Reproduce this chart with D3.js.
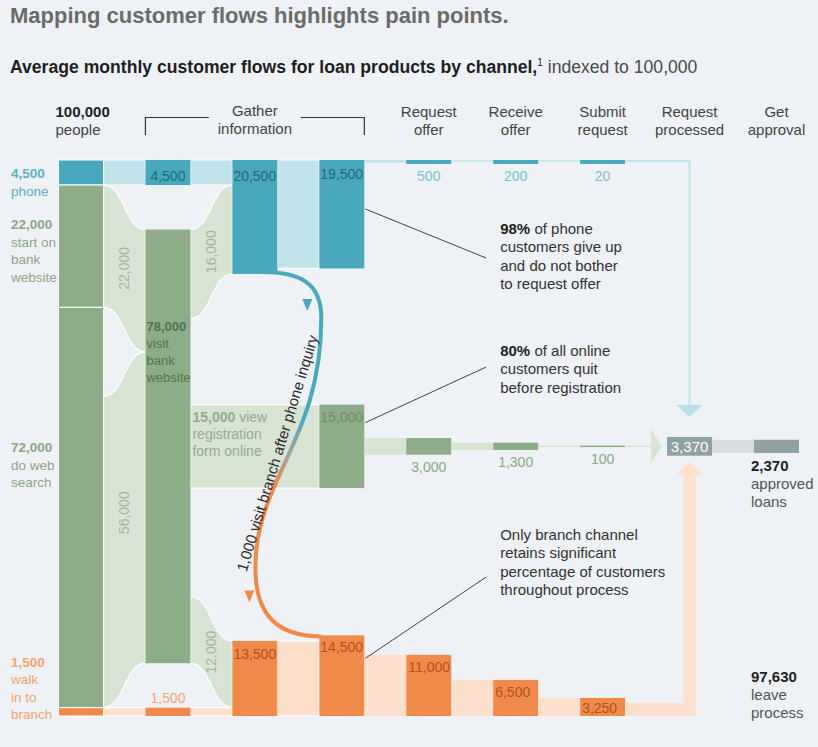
<!DOCTYPE html>
<html>
<head>
<meta charset="utf-8">
<script src="https://cdn.jsdelivr.net/npm/d3@7"></script>
<style>
  html, body { margin: 0; padding: 0; background: #eef1f5; }
  svg { display: block; font-family: "Liberation Sans", Arial, Helvetica, sans-serif; }
</style>
</head>
<body>
<div id="chart"></div>
<script>
// customers per month, indexed to 100,000
let stages = ["start", "channel", "info", "compare", "request", "receive", "submit", "processed", "approval"];
let stageHeaders = [["Request", "offer"], ["Receive", "offer"], ["Submit", "request"], ["Request", "processed"], ["Get", "approval"]];

let channels = ["phone", "website", "search", "branch"];
let channelPeople = [4500, 22000, 72000, 1500];
let channelLabels = [["4,500", "phone"], ["22,000", "start on", "bank", "website"], ["72,000", "do web", "search"], ["1,500", "walk", "in to", "branch"]];

let visitWebsite = 78000;
let flowsToWebsite = [22000, 56000];          // start on website, web search
let flowsFromWebsite = [16000, 15000, 12000]; // phone info, registration form, branch
let phoneInfo = [20500, 19500];
let branchInfo = [13500, 14500];
let phoneToBranch = 1000;

let phoneFunnel = [500, 200, 20];
let onlineFunnel = [3000, 1300, 100];
let branchFunnel = [11000, 6500, 3250];
let processed = 3370;
let approved = 2370;
let leave = 97630;
let total = 100000;

let notes = [
    { bold: "98%", lines: [" of phone", "customers give up", "and do not bother", "to request offer"] },
    { bold: "80%", lines: [" of all online", "customers quit", "before registration"] },
    { bold: "", lines: ["Only branch channel", "retains significant", "percentage of customers", "throughout process"] }
];

const width = 818, height = 747;
const fmt = d3.format(",");
const col = {
    teal: "#4aa8bd", tealLt: "#c3e3ea", green: "#8eac8a", greenLt: "#d7e4d3",
    orange: "#f08a4b", orangeLt: "#fde0cb", gray: "#8fa1a3", grayLt: "#d9dcdf"
};

const svg = d3.select("#chart").append("svg")
    .attr("width", width)
    .attr("height", height);

svg.append("rect").attr("width", width).attr("height", height).attr("fill", "#eef1f5");

const x = d3.scalePoint().domain(stages).range([58.5, 754]);
const y = d3.scaleLinear().domain([0, total]).range([160, 716]);
const barW = 45;
const h = v => y(v) - y(0);

// layout anchors (people units)
const websiteTop = 12500, onlineMid = 51500;

// ---- titles ----
svg.append("text").attr("x", 10).attr("y", 23)
    .attr("font-size", 22).attr("font-weight", "bold").attr("fill", "#6b6b6b")
    .text("Mapping customer flows highlights pain points.");

let sub = svg.append("text").attr("x", 10).attr("y", 73).attr("font-size", 17.6);
sub.append("tspan").attr("font-weight", "bold").attr("fill", "#1e1e1e")
    .text("Average monthly customer flows for loan products by channel,");
sub.append("tspan").attr("font-size", 10).attr("dy", -7).attr("fill", "#1e1e1e").text("1");
sub.append("tspan").attr("dy", 7).attr("fill", "#4a4a4a").text(" indexed to 100,000");

// ---- column headers ----
let hdr = svg.append("g").attr("font-size", 15).attr("fill", "#444");
hdr.append("text").attr("x", x("start") - 3).attr("y", 117).attr("font-weight", "bold").attr("fill", "#222").text("100,000");
hdr.append("text").attr("x", x("start") - 3).attr("y", 135).text("people");

const gx = (x("channel") + x("compare") + barW) / 2;
hdr.append("text").attr("x", gx).attr("y", 116).attr("text-anchor", "middle").text("Gather");
hdr.append("text").attr("x", gx).attr("y", 134).attr("text-anchor", "middle").text("information");
svg.append("path")
    .attr("d", `M${x("channel")},135V117.5H${gx - 46}M${gx + 46},117.5H${x("compare") + barW}V135`)
    .attr("fill", "none").attr("stroke", "#333").attr("stroke-width", 1.2);

hdr.selectAll(".stage")
    .data(stageHeaders)
    .enter()
    .append("text")
    .attr("class", "stage")
    .attr("text-anchor", "middle")
    .attr("x", (d, i) => x(stages[4 + i]) + barW / 2)
    .attr("y", 117)
    .each(function (d) {
        d3.select(this).selectAll("tspan").data(d).enter().append("tspan")
            .attr("x", d3.select(this).attr("x"))
            .attr("dy", (t, j) => j ? 18 : 0)
            .text(t => t);
    });

// ---- nodes ----
let nodes = {};
function node(id, stage, start, value, fill) { nodes[id] = { id, stage, start, value, fill }; }

let acc = 0;
channels.forEach((c, i) => {
    node(c, "start", acc, channelPeople[i], [col.teal, col.green, col.green, col.orange][i]);
    acc += channelPeople[i];
});
node("phone1", "channel", 0, channelPeople[0], col.teal);
node("visit", "channel", websiteTop, visitWebsite, col.green);
node("branch1", "channel", total - channelPeople[3], channelPeople[3], col.orange);
node("phone2", "info", 0, phoneInfo[0], col.teal);
node("branch2", "info", total - branchInfo[0], branchInfo[0], col.orange);
node("phone3", "compare", 0, phoneInfo[1], col.teal);
node("online3", "compare", onlineMid - flowsFromWebsite[1] / 2, flowsFromWebsite[1], col.green);
node("branch3", "compare", total - branchInfo[1], branchInfo[1], col.orange);

let links = [
    { s: "phone", so: 0, t: "phone1", to: 0, v: channelPeople[0], fill: col.tealLt },
    { s: "website", so: 0, t: "visit", to: 0, v: flowsToWebsite[0], fill: col.greenLt, label: true },
    { s: "search", so: channelPeople[2] - flowsToWebsite[1], t: "visit", to: flowsToWebsite[0], v: flowsToWebsite[1], fill: col.greenLt, label: true, shift: -17 },
    { s: "branch", so: 0, t: "branch1", to: 0, v: channelPeople[3], fill: col.orangeLt },
    { s: "phone1", so: 0, t: "phone2", to: 0, v: channelPeople[0], fill: col.tealLt },
    { s: "visit", so: 0, t: "phone2", to: channelPeople[0], v: flowsFromWebsite[0], fill: col.greenLt, label: true },
    { s: "visit", so: nodes.online3.start - websiteTop, t: "online3", to: 0, v: flowsFromWebsite[1], fill: col.greenLt },
    { s: "visit", so: visitWebsite - flowsFromWebsite[2], t: "branch2", to: 0, v: flowsFromWebsite[2], fill: col.greenLt, label: true },
    { s: "branch1", so: 0, t: "branch2", to: flowsFromWebsite[2], v: channelPeople[3], fill: col.orangeLt },
    { s: "phone2", so: 0, t: "phone3", to: 0, v: phoneInfo[1], fill: col.tealLt },
    { s: "branch2", so: 0, t: "branch3", to: phoneToBranch, v: branchInfo[0], fill: col.orangeLt }
];

function linkGeom(d) {
    const s = nodes[d.s], t = nodes[d.t];
    const x0 = x(s.stage) + barW, x1 = x(t.stage);
    return {
        x0, x1, xm: (x0 + x1) / 2,
        s0: y(s.start + d.so), s1: y(s.start + d.so + d.v),
        t0: y(t.start + d.to), t1: y(t.start + d.to + d.v)
    };
}
function band(d) {
    const g = linkGeom(d);
    return `M${g.x0},${g.s0}C${g.xm},${g.s0} ${g.xm},${g.t0} ${g.x1},${g.t0}` +
        `L${g.x1},${g.t1}C${g.xm},${g.t1} ${g.xm},${g.s1} ${g.x0},${g.s1}Z`;
}

svg.append("g")
    .selectAll("path")
    .data(links)
    .enter()
    .append("path")
    .attr("d", band)
    .attr("fill", d => d.fill)
    .attr("stroke", "#fff")
    .attr("stroke-width", 1.2);

svg.append("g")
    .selectAll("text")
    .data(links.filter(d => d.label))
    .enter()
    .append("text")
    .attr("transform", d => {
        const g = linkGeom(d);
        return `translate(${g.xm},${(g.s0 + g.s1 + g.t0 + g.t1) / 4 + (d.shift || 0)})rotate(-90)`;
    })
    .attr("text-anchor", "middle")
    .attr("dy", "0.35em")
    .attr("font-size", 14)
    .attr("fill", "#a3b59f")
    .text(d => fmt(d.v));

let nodeList = Object.values(nodes);
svg.append("g")
    .selectAll("rect")
    .data(nodeList)
    .enter()
    .append("rect")
    .attr("x", d => x(d.stage))
    .attr("y", d => y(d.start))
    .attr("width", barW)
    .attr("height", d => h(d.value))
    .attr("fill", d => d.fill)
    .attr("stroke", d => d.stage === "start" ? "#fff" : "none")
    .attr("stroke-width", 1);

// numbers inside gather bars
let inBar = [
    { id: "phone2", dy: 21, c: "#22697a" },
    { id: "phone3", dy: 19, c: "#22697a" },
    { id: "online3", dy: 17, c: "#6c8d68" },
    { id: "branch2", dy: 18, c: "#b5501a" },
    { id: "branch3", dy: 17, c: "#b5501a" }
];
svg.append("g").attr("font-size", 14)
    .selectAll("text")
    .data(inBar)
    .enter()
    .append("text")
    .attr("x", d => x(nodes[d.id].stage) + 1)
    .attr("y", d => y(nodes[d.id].start) + d.dy)
    .attr("fill", d => d.c)
    .text(d => fmt(nodes[d.id].value));

svg.append("text")
    .attr("x", x("channel") + barW / 2).attr("y", y(0) + 21)
    .attr("text-anchor", "middle").attr("font-size", 14).attr("fill", "#22697a")
    .text(fmt(nodes.phone1.value));
svg.append("text")
    .attr("x", x("channel") + barW / 2).attr("y", y(nodes.branch1.start) - 5)
    .attr("text-anchor", "middle").attr("font-size", 14).attr("fill", "#f1a674")
    .text(fmt(nodes.branch1.value));

// multi-line label helper
function block(g, xPos, yPos, lines, lh, boldFirst, fill, boldFill) {
    let t = g.append("text").attr("x", xPos).attr("y", yPos).attr("fill", fill);
    lines.forEach((l, i) => {
        t.append("tspan").attr("x", xPos).attr("dy", i ? lh : 0)
            .attr("font-weight", boldFirst && i === 0 ? "bold" : null)
            .attr("fill", boldFirst && i === 0 && boldFill ? boldFill : null)
            .text(l);
    });
    return t;
}

// channel labels on the left
let chanG = svg.append("g").attr("font-size", 13.5);
const chanNudge = [18, 44, 145, -41];
const chanColor = ["#58b2c4", "#8ea58a", "#8ea58a", "#f0a46c"];
channels.forEach((c, i) => {
    block(chanG, 11, y(nodes[c].start) + chanNudge[i], channelLabels[i], 17.5, true, chanColor[i]);
});

// 78,000 visit bank website
block(svg.append("g").attr("font-size", 13), x("channel") + 1, y(websiteTop) + 101,
    [fmt(visitWebsite), "visit", "bank", "website"], 17, true, "#52734e");

// 15,000 view registration form online
let reg = svg.append("text").attr("font-size", 14).attr("fill", "#93ab8f")
    .attr("x", x("channel") + barW + 2).attr("y", y(nodes.online3.start) + 17);
reg.append("tspan").attr("font-weight", "bold").text(fmt(flowsFromWebsite[1]));
reg.append("tspan").text(" view");
reg.append("tspan").attr("x", x("channel") + barW + 2).attr("dy", 17).text("registration");
reg.append("tspan").attr("x", x("channel") + barW + 2).attr("dy", 17).text("form online");

// ---- funnel rows after gathering ----
let rows = [
    { vals: phoneFunnel, align: "top", bar: col.teal, band: col.tealLt, text: "#7cc3d1", minBar: 4, below: true },
    { vals: onlineFunnel, align: "mid", bar: col.green, band: col.greenLt, text: "#8aa886", minBar: 1.5, below: true },
    { vals: branchFunnel, align: "bottom", bar: col.orange, band: col.orangeLt, text: "#b5501a", minBar: 1.5, below: false }
];
function place(align, ph) {
    return align === "top" ? y(0) : align === "mid" ? y(onlineMid) - ph / 2 : y(total) - ph;
}

let funnel = svg.append("g");
rows.forEach(r => {
    r.vals.forEach((v, i) => {
        const st = stages[4 + i];
        const prevRight = x(stages[3 + i]) + barW;
        const pb = Math.max(h(v), 1.5);
        funnel.append("rect")
            .attr("x", prevRight).attr("y", place(r.align, pb))
            .attr("width", x(st) - prevRight).attr("height", pb)
            .attr("fill", r.band);
        const ph = Math.max(h(v), r.minBar);
        const top = place(r.align, ph);
        funnel.append("rect")
            .attr("x", x(st)).attr("y", top)
            .attr("width", barW).attr("height", ph)
            .attr("fill", r.bar);
        let t = funnel.append("text").attr("font-size", 14).attr("fill", r.text).text(fmt(v));
        if (r.below) {
            t.attr("x", x(st) + barW / 2).attr("y", top + ph + 17).attr("text-anchor", "middle");
        } else {
            t.attr("x", x(st) + 2).attr("y", ph > 20 ? top + 17 : top + ph - 3);
        }
    });
});

// ---- processed / approved ----
const xr = x("processed") + barW / 2;
const procH = h(processed);
const procTop = y(onlineMid) - procH / 2, procBot = procTop + procH;
const xs = x("submit") + barW;

// phone return line
svg.append("path")
    .attr("d", `M${xs},${y(0) + 1}H${xr}V${procTop - 32}`)
    .attr("fill", "none").attr("stroke", col.tealLt).attr("stroke-width", 2);
svg.append("path")
    .attr("d", `M${xr - 13},${procTop - 32}L${xr + 13},${procTop - 32}L${xr},${procTop - 20}Z`)
    .attr("fill", "#b9dfe8");

// branch return band
const yb = y(total), ab = procBot + 19;
svg.append("path")
    .attr("d", `M${xs},${yb - 13}H${xr - 6}V${ab}H${xr - 13}L${xr},${procBot + 6}L${xr + 13},${ab}H${xr + 6}V${yb}H${xs}Z`)
    .attr("fill", col.orangeLt);

// online arrow
const ym = y(onlineMid);
const thin = Math.max(h(onlineFunnel[2]), 1.5);
svg.append("rect")
    .attr("x", xs).attr("y", ym - thin / 2)
    .attr("width", x("processed") - 15 - xs).attr("height", thin)
    .attr("fill", col.greenLt);
svg.append("path")
    .attr("d", `M${x("processed") - 16},${ym - 17}L${x("processed") - 5},${ym}L${x("processed") - 16},${ym + 17}Z`)
    .attr("fill", col.greenLt);

svg.append("rect")
    .attr("x", x("processed")).attr("y", procTop)
    .attr("width", barW).attr("height", procH)
    .attr("fill", col.gray);
svg.append("text")
    .attr("x", xr).attr("y", ym + 5.5)
    .attr("text-anchor", "middle").attr("font-size", 15).attr("fill", "#fff")
    .text(fmt(processed));

const apH = h(approved);
svg.append("rect")
    .attr("x", x("processed") + barW).attr("y", ym - apH / 2)
    .attr("width", x("approval") - x("processed") - barW).attr("height", apH)
    .attr("fill", col.grayLt);
svg.append("rect")
    .attr("x", x("approval")).attr("y", ym - apH / 2)
    .attr("width", barW).attr("height", apH)
    .attr("fill", col.gray);

let endG = svg.append("g").attr("font-size", 15);
block(endG, x("approval") - 3, ym + 25, [fmt(approved), "approved", "loans"], 18, true, "#555", "#222");
block(endG, x("approval") - 3, y(total) - 34, [fmt(leave), "leave", "process"], 18, true, "#555", "#222");

// ---- phone -> branch transfer curve ----
const xa = x("info"), xb = x("compare");
const yA = y(phoneInfo[0]) - 2, yB = y(total - branchInfo[1]) + 1;

let grad = svg.append("defs").append("linearGradient")
    .attr("id", "transfer")
    .attr("gradientUnits", "userSpaceOnUse")
    .attr("x1", 0).attr("y1", yA).attr("x2", 0).attr("y2", yB);
[[0, col.teal], [0.4, col.teal], [0.49, "#9aa4a6"], [0.58, col.orange], [1, col.orange]].forEach(s => {
    grad.append("stop").attr("offset", s[0]).attr("stop-color", s[1]);
});

svg.append("path")
    .attr("d", `M${xa + 30},${yA}C${xa + 68},${yA} ${xb + 2},${yA + 11} ${xb + 2},${yA + 46}` +
        `C${xb + 2},${yA + 168} ${xa + 23},${yB - 157} ${xa + 23},${yB - 69}` +
        `C${xa + 23},${yB - 22} ${xa + 44},${yB} ${xb + 2},${yB}`)
    .attr("fill", "none")
    .attr("stroke", "url(#transfer)")
    .attr("stroke-width", 4);

svg.append("path")
    .attr("transform", `translate(${xb - 12},${yA + 33})`)
    .attr("d", "M-5,-6L5,-6L0,6Z").attr("fill", col.teal);
svg.append("path")
    .attr("transform", `translate(${xa + 17},${yB - 40})`)
    .attr("d", "M-5,-6L5,-6L0,6Z").attr("fill", col.orange);

svg.append("text")
    .attr("transform", `translate(${xa + 14},${yB - 64})rotate(-73)`)
    .attr("font-size", 15)
    .attr("fill", "#2b2b2b")
    .text(fmt(phoneToBranch) + " visit branch after phone inquiry");

// ---- annotations ----
const noteX = x("receive") + 7;
const noteY = [234, 356, 540];
const leaderFrom = [["phone3", 49], ["online3", 18], ["branch3", 23]];
const leaderTo = [258, 367, 577];

let noteG = svg.append("g").attr("font-size", 15).attr("fill", "#333");
notes.forEach((n, i) => {
    let t = noteG.append("text").attr("x", noteX).attr("y", noteY[i]);
    n.lines.forEach((l, j) => {
        if (j === 0 && n.bold) {
            t.append("tspan").attr("font-weight", "bold").attr("fill", "#222").text(n.bold);
            t.append("tspan").text(l);
        } else {
            t.append("tspan").attr("x", noteX).attr("dy", j ? 18.3 : 0).text(l);
        }
    });
    const nd = nodes[leaderFrom[i][0]];
    svg.append("line")
        .attr("x1", x(nd.stage) + barW + 1).attr("y1", y(nd.start) + leaderFrom[i][1])
        .attr("x2", noteX - 14).attr("y2", leaderTo[i])
        .attr("stroke", "#444").attr("stroke-width", 1);
});
</script>
</body>
</html>
